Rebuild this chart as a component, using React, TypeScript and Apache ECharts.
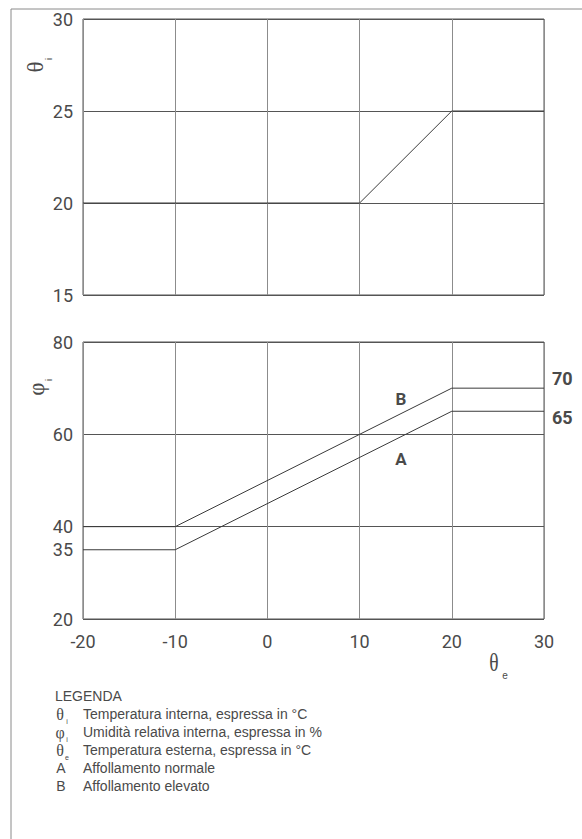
import React, { useEffect, useRef } from "react";
import * as echarts from "echarts";

// Indoor temperature θi against outdoor temperature θe
const thetaIPoints: [number, number][] = [
  [-20, 20],
  [10, 20],
  [20, 25],
  [30, 25],
];
// Indoor relative humidity φi, normal crowding (A)
const phiA: [number, number][] = [
  [-20, 35],
  [-10, 35],
  [20, 65],
  [30, 65],
];
// Indoor relative humidity φi, high crowding (B)
const phiB: [number, number][] = [
  [-20, 40],
  [-10, 40],
  [20, 70],
  [30, 70],
];
const xTicks = [-20, -10, 0, 10, 20, 30];
const topYTicks = [15, 20, 25, 30];
const bottomYLabels = [20, 35, 40, 60, 80];

const legendRows = [
  { sym: "θ", sub: "i", text: "Temperatura interna, espressa in °C" },
  { sym: "φ", sub: "i", text: "Umidità relativa interna, espressa in %" },
  { sym: "θ", sub: "e", text: "Temperatura esterna, espressa in °C" },
  { sym: "A", sub: "", text: "Affollamento normale" },
  { sym: "B", sub: "", text: "Affollamento elevato" },
];

const NARROW = "'Roboto', 'Liberation Sans', sans-serif";
const SANS = "'Liberation Sans', Arial, sans-serif";
const SERIF = "'Liberation Serif', 'DejaVu Serif', serif";
const INK = "#4a4a4a";

export default function App() {
  const ref = useRef<HTMLDivElement>(null);

  useEffect(() => {
    if (!ref.current) return;
    const chart = echarts.init(ref.current, undefined, { renderer: "svg" });

    const xAxisBase = {
      type: "value" as const,
      min: xTicks[0],
      max: xTicks[xTicks.length - 1],
      interval: 10,
      axisLine: { show: false },
      axisTick: { show: false },
      splitLine: { show: true, lineStyle: { color: "#8c8c8c", width: 1 } },
    };

    const graphics: any[] = [
      // frame around the figure (top and left edges)
      { type: "line", shape: { x1: 11, y1: 9, x2: 582, y2: 9 }, style: { stroke: "#8a8a8a", lineWidth: 1 } },
      { type: "line", shape: { x1: 11, y1: 9, x2: 11, y2: 839 }, style: { stroke: "#8a8a8a", lineWidth: 1 } },
      // θi axis name
      { type: "text", x: 35, y: 67, rotation: Math.PI / 2, style: { text: "θ", font: `23px ${SERIF}`, fill: INK, align: "center", verticalAlign: "middle" } },
      { type: "text", x: 49, y: 59, rotation: Math.PI / 2, style: { text: "i", font: `9px ${SANS}`, fill: INK, align: "center", verticalAlign: "middle" } },
      // φi axis name
      { type: "text", x: 36, y: 389, rotation: Math.PI / 2, style: { text: "φ", font: `23px ${SERIF}`, fill: INK, align: "center", verticalAlign: "middle" } },
      { type: "text", x: 49, y: 380, rotation: Math.PI / 2, style: { text: "i", font: `9px ${SANS}`, fill: INK, align: "center", verticalAlign: "middle" } },
      // θe axis name
      { type: "text", x: 494, y: 663, scaleX: 0.75, style: { text: "θ", font: `26px ${SERIF}`, fill: INK, align: "center", verticalAlign: "middle" } },
      { type: "text", x: 505, y: 675, style: { text: "e", font: `10px ${SANS}`, fill: INK, align: "center", verticalAlign: "middle" } },
      // curve letters
      { type: "text", x: 401, y: 399, style: { text: "B", font: `bold 17px ${NARROW}`, fill: INK, align: "center", verticalAlign: "middle" } },
      { type: "text", x: 401, y: 459, style: { text: "A", font: `bold 17px ${NARROW}`, fill: INK, align: "center", verticalAlign: "middle" } },
      // legend
      { type: "text", x: 55, y: 696, style: { text: "LEGENDA", font: `14px ${SANS}`, fill: INK, align: "left", verticalAlign: "middle" } },
    ];

    legendRows.forEach((row, i) => {
      const y = 714 + i * 18;
      const isGreek = row.sub !== "";
      graphics.push({
        type: "text",
        x: isGreek ? 60 : 61,
        y,
        style: {
          text: row.sym,
          font: isGreek ? `16px ${SERIF}` : `14px ${SANS}`,
          fill: INK,
          align: "center",
          verticalAlign: "middle",
        },
      });
      if (isGreek) {
        graphics.push({
          type: "text",
          x: 67,
          y: y + 7,
          style: { text: row.sub, font: `7px ${SANS}`, fill: INK, align: "center", verticalAlign: "middle" },
        });
      }
      graphics.push({
        type: "text",
        x: 83,
        y,
        style: { text: row.text, font: `14px ${SANS}`, fill: INK, align: "left", verticalAlign: "middle" },
      });
    });

    const endLabel = (dy: number) => ({
      show: true,
      formatter: (p: any) => String(p.value[1]),
      offset: [0, dy],
      distance: 8,
      color: INK,
      fontSize: 18,
      fontWeight: "bold",
      fontFamily: NARROW,
    });

    const lineSeries = (data: [number, number][], xi: number, label?: any) => ({
      type: "line" as const,
      xAxisIndex: xi,
      yAxisIndex: xi,
      data,
      symbol: "none",
      lineStyle: { color: "#3a3a3a", width: 1 },
      silent: true,
      endLabel: label,
    });

    chart.setOption({
      animation: false,
      backgroundColor: "#ffffff",
      grid: [
        { left: 83, top: 19, width: 461, height: 276, show: true, borderColor: "#555", borderWidth: 1, backgroundColor: "transparent" },
        { left: 83, top: 342, width: 461, height: 277, show: true, borderColor: "#555", borderWidth: 1, backgroundColor: "transparent" },
      ],
      xAxis: [
        { ...xAxisBase, gridIndex: 0, axisLabel: { show: false } },
        {
          ...xAxisBase,
          gridIndex: 1,
          axisLabel: { show: true, margin: 13, color: INK, fontSize: 18, fontFamily: NARROW },
        },
      ],
      yAxis: [
        {
          type: "value",
          gridIndex: 0,
          min: topYTicks[0],
          max: topYTicks[topYTicks.length - 1],
          interval: 5,
          axisLine: { show: false },
          axisTick: { show: false },
          splitLine: { show: true, lineStyle: { color: "#555", width: 1 } },
          axisLabel: { margin: 10, color: INK, fontSize: 18, fontFamily: NARROW },
        },
        {
          type: "value",
          gridIndex: 1,
          min: 20,
          max: 80,
          interval: 20,
          axisLine: { show: false },
          axisTick: { show: false },
          splitLine: { show: true, lineStyle: { color: "#555", width: 1 } },
          axisLabel: { margin: 10, color: INK, fontSize: 18, fontFamily: NARROW, customValues: bottomYLabels },
        },
      ],
      series: [
        lineSeries(thetaIPoints, 0),
        lineSeries(phiA, 1, endLabel(6)),
        lineSeries(phiB, 1, endLabel(-10)),
      ],
      graphic: graphics,
    });

    return () => chart.dispose();
  }, []);

  return (
    <div
      ref={ref}
      style={{ position: "absolute", left: 0, top: 0, width: 582, height: 839 }}
    />
  );
}
